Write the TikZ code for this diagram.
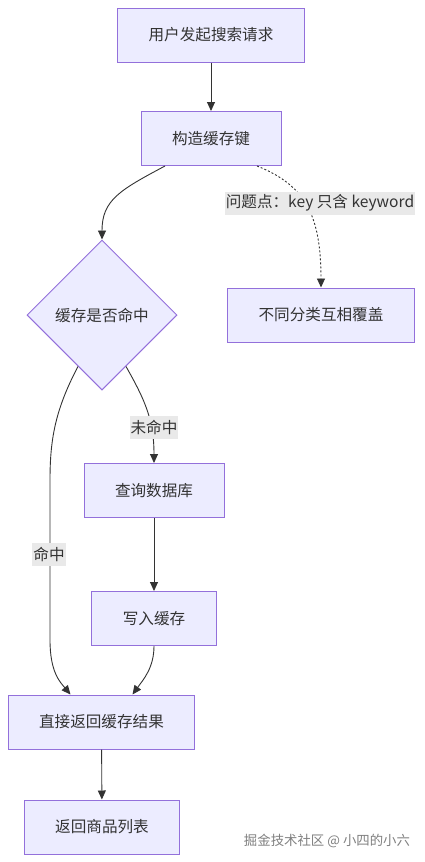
\documentclass[tikz,border=0pt]{standalone}
\usepackage{fontspec}
\setmainfont{Noto Sans CJK SC}
\usepackage{tikz}
\usetikzlibrary{shapes, arrows.meta, positioning}
\definecolor{fondocaja}{HTML}{ECECFF}
\definecolor{bordecaja}{HTML}{9370DB}
\definecolor{texto}{HTML}{333333}
\definecolor{fondoetiqueta}{HTML}{E9E9E9}
\tikzstyle{paso} = [draw=bordecaja, fill=fondocaja, line width=1pt, rectangle, inner xsep=31pt, minimum height=54pt, text=texto, font=\fontsize{15.6}{18}\selectfont]
\tikzstyle{rombo} = [draw=bordecaja, fill=fondocaja, line width=1pt, diamond, minimum width=150pt, minimum height=150pt, inner sep=0pt, text=texto, font=\fontsize{15.6}{18}\selectfont]
\tikzstyle{etiqueta} = [fill=fondoetiqueta, text=texto, inner xsep=1pt, inner ysep=0pt, minimum height=23pt, font=\fontsize{15.6}{18}\selectfont]
\tikzstyle{flecha} = [draw=texto, line width=0.9pt, -{Triangle[length=9pt,width=8pt]}]

\begin{document}
\begin{tikzpicture}[x=1pt, y=-1pt]
	\useasboundingbox[fill=white] (0,0) rectangle (424,862);
	\node [paso] (peticion) at (211,35) {用户发起搜索请求};
	\node [paso] (clave) at (211,138.5) {构造缓存键};
	\node [rombo] (cache) at (102,315) {缓存是否命中};
	\node [paso] (cobertura) at (321,315) {不同分类互相覆盖};
	\node [paso] (consulta) at (154,490.5) {查询数据库};
	\node [paso] (escritura) at (154,618.5) {写入缓存};
	\node [paso] (directo) at (101.5,722) {直接返回缓存结果};
	\node [paso] (lista) at (102,827) {返回商品列表};
	% aristas
	\draw [flecha] (peticion) -- (clave);
	\draw [flecha] ([xshift=-46pt]clave.south) .. controls (120,190) and (102,200) .. (cache.north);
	\draw [flecha, dash pattern=on 2pt off 2pt] ([xshift=46pt]clave.south) .. controls (305,185) and (321,215) .. (cobertura.north);
	\draw [flecha] (cache.-65) .. controls (145,400) and (154,420) .. (consulta.north);
	\draw [flecha] (cache.-115) .. controls (55,410) and (50,440) .. (50,480) -- (50,640) .. controls (50,672) and (60,682) .. ([xshift=-31pt]directo.north);
	\draw [flecha] (consulta) -- (escritura);
	\draw [flecha] (escritura.south) .. controls (154,668) and (143,680) .. ([xshift=31pt]directo.north);
	\draw [flecha] (directo) -- (lista);
	% etiquetas
	\node [etiqueta] (problema) at (320,203) {问题点：key 只含 keyword};
	\node [etiqueta] (fallo) at (154,427) {未命中};
	\node [etiqueta] (acierto) at (49,554.5) {命中};
	\node [text=gray, font=\fontsize{13.4}{15}\selectfont] (firma) at (327,841) {掘金技术社区 @ 小四的小六};
\end{tikzpicture}
\end{document}
